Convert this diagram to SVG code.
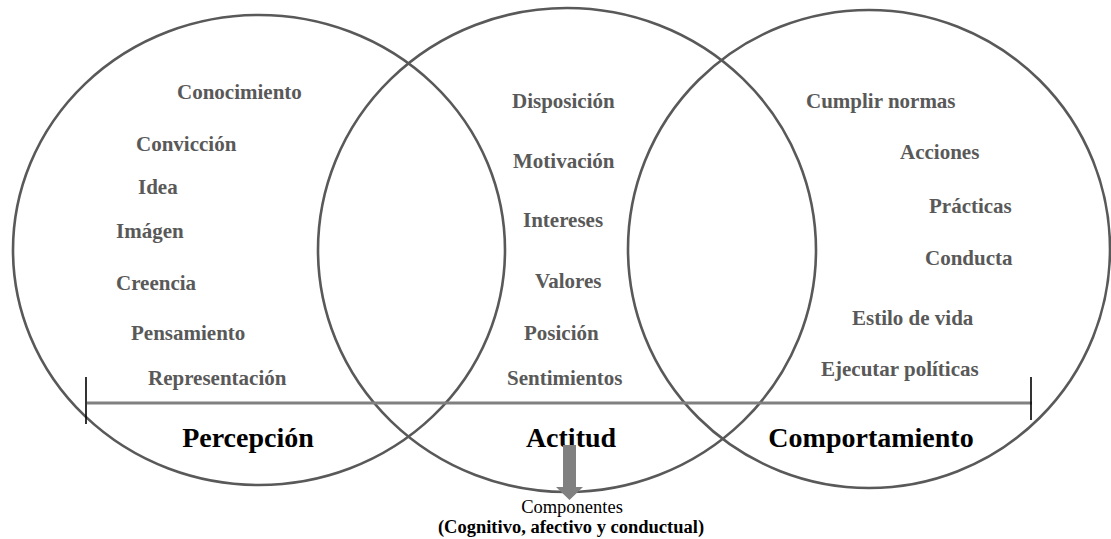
<svg xmlns="http://www.w3.org/2000/svg" width="1111" height="539" viewBox="0 0 1111 539">
  <style>
    .ring { fill: none; stroke: #595959; stroke-width: 2.6; }
    .item { font-family: "Liberation Serif", "Times New Roman", serif; font-weight: bold; font-size: 21px; fill: #595959; }
    .title { font-family: "Liberation Serif", "Times New Roman", serif; font-weight: bold; font-size: 28px; fill: #000; text-anchor: middle; }
    .note { font-family: "Liberation Serif", "Times New Roman", serif; font-size: 18.5px; fill: #000; text-anchor: middle; }
    .tick { stroke: #000; stroke-width: 1.6; }
  </style>
  <rect width="1111" height="539" fill="#fff"/>

  <g id="percepcion">
    <ellipse class="ring" cx="259" cy="250" rx="246" ry="235"/>
    <text class="item" x="177" y="99">Conocimiento</text>
    <text class="item" x="136" y="151">Convicción</text>
    <text class="item" x="138" y="194">Idea</text>
    <text class="item" x="116" y="238">Imágen</text>
    <text class="item" x="116" y="290">Creencia</text>
    <text class="item" x="131" y="340">Pensamiento</text>
    <text class="item" x="148" y="385">Representación</text>
    <text class="title" x="248" y="447">Percepción</text>
  </g>

  <g id="actitud">
    <ellipse class="ring" cx="567" cy="250" rx="249" ry="242"/>
    <text class="item" x="512" y="108">Disposición</text>
    <text class="item" x="513" y="168">Motivación</text>
    <text class="item" x="523" y="227">Intereses</text>
    <text class="item" x="535" y="288">Valores</text>
    <text class="item" x="524" y="340">Posición</text>
    <text class="item" x="507" y="385">Sentimientos</text>
    <text class="title" x="571" y="447">Actitud</text>
  </g>

  <g id="comportamiento">
    <ellipse class="ring" cx="869" cy="249" rx="241" ry="239"/>
    <text class="item" x="806" y="108">Cumplir normas</text>
    <text class="item" x="900" y="159">Acciones</text>
    <text class="item" x="929" y="213">Prácticas</text>
    <text class="item" x="925" y="265">Conducta</text>
    <text class="item" x="852" y="325">Estilo de vida</text>
    <text class="item" x="821" y="376">Ejecutar políticas</text>
    <text class="title" x="871" y="447">Comportamiento</text>
  </g>

  <g id="connectors">
    <!-- shared axis across the three sets -->
    <line x1="87" y1="403" x2="1032" y2="403" stroke="#808080" stroke-width="3.2"/>
    <line class="tick" x1="86" y1="377" x2="86" y2="424"/>
    <line class="tick" x1="1031" y1="377" x2="1031" y2="420"/>
    <!-- downward block arrow below the middle set -->
    <polygon points="563,445 576,445 576,487 583,487 569.5,500 556,487 563,487" fill="#808080"/>
  </g>

  <g id="componentes">
    <text class="note" x="572" y="513">Componentes</text>
    <text class="note" x="571" y="533" font-weight="bold" font-size="17px">(Cognitivo, afectivo y conductual)</text>
  </g>
</svg>
